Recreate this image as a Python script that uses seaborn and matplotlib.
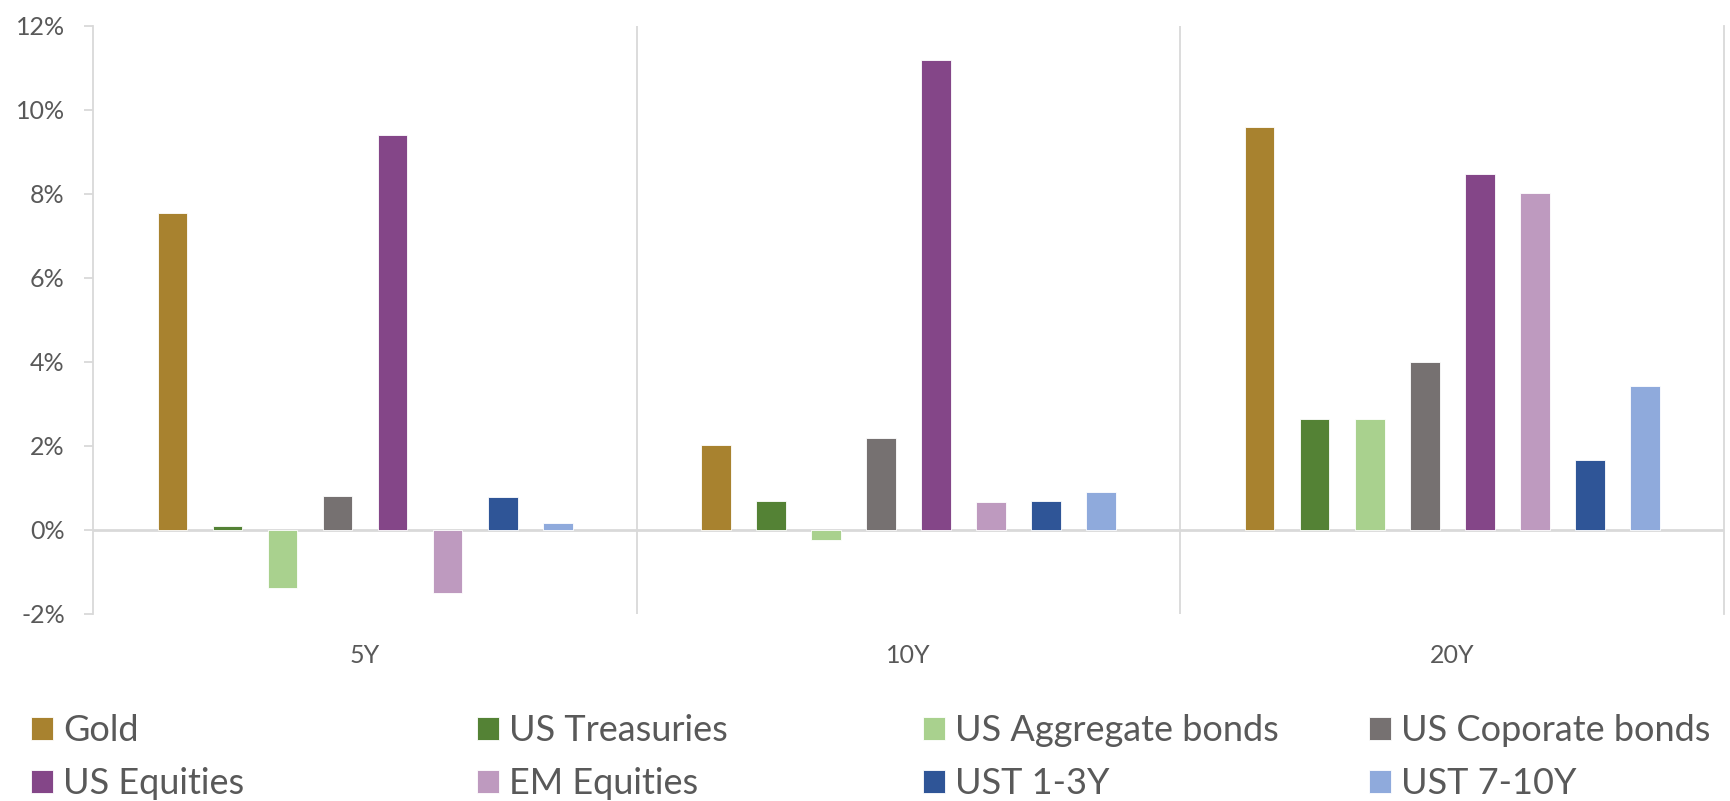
import matplotlib
matplotlib.use("Agg")
import matplotlib.pyplot as plt
from matplotlib.ticker import PercentFormatter, FixedLocator
import seaborn as sns
import pandas as pd

# ---- data (annualised returns, %) ----
periods = ["5Y", "10Y", "20Y"]
assets = ["Gold", "US Treasuries", "US Aggregate bonds", "US Coporate bonds",
          "US Equities", "EM Equities", "UST 1-3Y", "UST 7-10Y"]
gold = [7.53, 2.02, 9.59]
us_treasuries = [0.08, 0.69, 2.63]
us_aggregate = [-1.40, -0.24, 2.63]
us_corporate = [0.81, 2.17, 4.00]
us_equities = [9.39, 11.18, 8.46]
em_equities = [-1.52, 0.65, 8.02]
ust_1_3 = [0.77, 0.67, 1.66]
ust_7_10 = [0.15, 0.90, 3.43]
y_ticks = [-2, 0, 2, 4, 6, 8, 10, 12]

colors = ["#A8822F", "#548235", "#A9D18E", "#767171",
          "#844688", "#BE9ABF", "#2F5597", "#8FAADC"]

series = [gold, us_treasuries, us_aggregate, us_corporate,
          us_equities, em_equities, ust_1_3, ust_7_10]
rows = []
for name, vals in zip(assets, series):
    for p, v in zip(periods, vals):
        rows.append({"period": p, "asset": name, "value": v})
df = pd.DataFrame(rows)

sns.set_style("white")
plt.rcParams["font.family"] = ["Lato", "DejaVu Sans"]
plt.rcParams["axes.unicode_minus"] = False

text_col = "#595959"
line_col = "#D9D9D9"

fig = plt.figure(figsize=(17.31, 8.01), dpi=100)
ax = fig.add_axes([93.3 / 1731, 1 - 613.6 / 801, (1724 - 93.3) / 1731, (613.6 - 25.7) / 801])

sns.barplot(data=df, x="period", y="value", hue="asset", order=periods,
            hue_order=assets, palette=colors, saturation=1, width=0.81, gap=0.46,
            edgecolor="white", linewidth=0.6, ax=ax, legend=True)

handles, labels = ax.get_legend_handles_labels()
ax.get_legend().remove()

ax.set_xlim(-0.5, 2.5)
ax.set_ylim(-2, 12)
ax.yaxis.set_major_locator(FixedLocator(y_ticks))
ax.yaxis.set_major_formatter(PercentFormatter(xmax=100, decimals=0))
ax.set_xlabel("")
ax.set_ylabel("")

# separators between categories
ax.xaxis.set_minor_locator(FixedLocator([0.5, 1.5]))
ax.grid(False)
ax.grid(True, which="minor", axis="x", color=line_col, linewidth=1.3)
ax.axhline(0, color=line_col, linewidth=2, zorder=0.5)

for s in ["top", "bottom"]:
    ax.spines[s].set_visible(False)
for s in ["left", "right"]:
    ax.spines[s].set_color(line_col)
    ax.spines[s].set_linewidth(1.3)

ax.tick_params(axis="y", which="major", left=True, length=6.5, width=1.3,
               color=line_col, labelcolor=text_col, labelsize=18, pad=14)
ax.tick_params(axis="x", which="both", bottom=False, length=0,
               labelcolor=text_col, labelsize=18, pad=22)

# legend: four columns at fixed horizontal positions
col_x = [31, 477, 923, 1369]
for i, x in enumerate(col_x):
    idx = [i, i + 4]
    fig.legend([handles[j] for j in idx], [labels[j] for j in idx],
               loc="upper left", bbox_to_anchor=(x / 1731, 1 - 714 / 801),
               bbox_transform=fig.transFigure, frameon=False,
               fontsize=26, labelcolor=text_col,
               handlelength=0.6, handleheight=0.6, handletextpad=0.3,
               labelspacing=0.55, borderpad=0, borderaxespad=0)

fig.savefig("out.png", dpi=100)
